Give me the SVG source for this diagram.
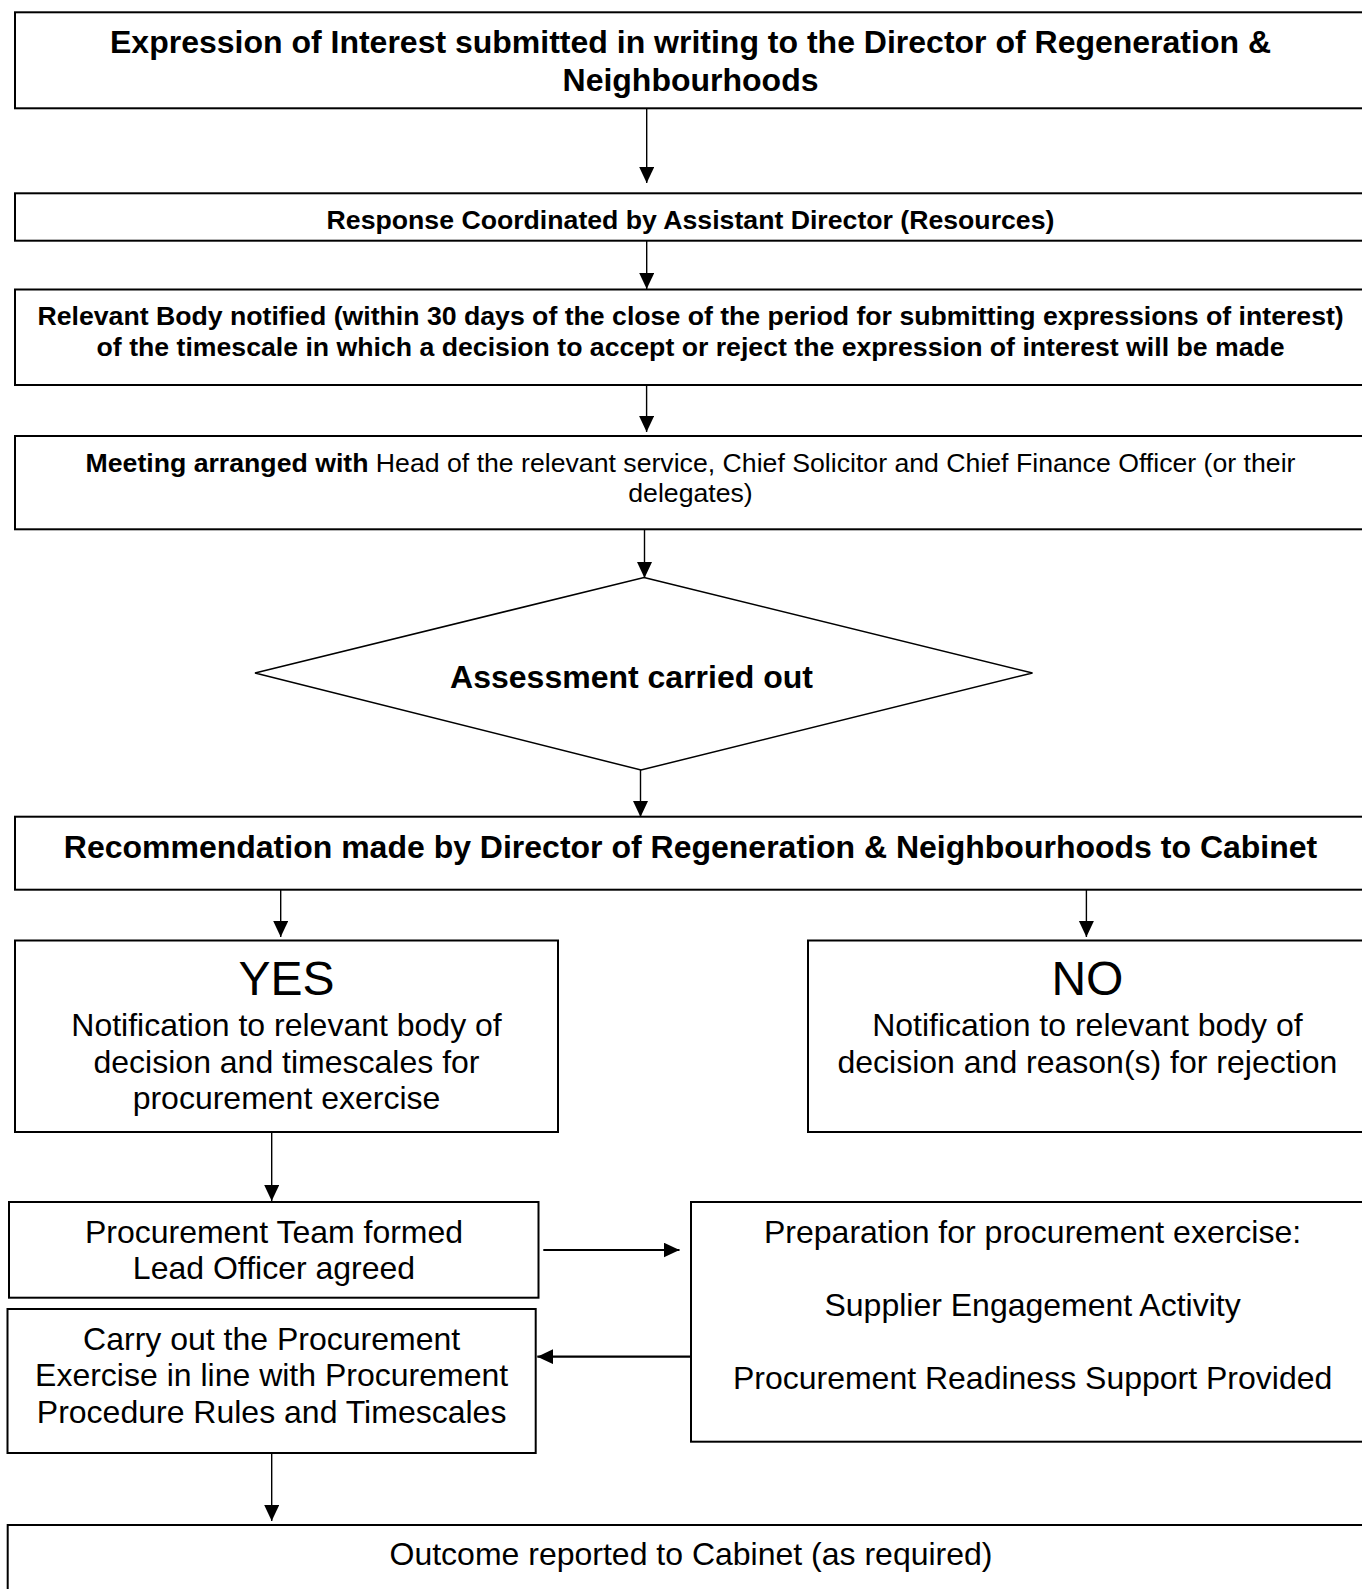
<svg xmlns="http://www.w3.org/2000/svg" width="1362" height="1589" viewBox="0 0 1362 1589">
<style>
.box{fill:#fff;stroke:#000;stroke-width:2}
.t{font-family:"Liberation Sans",Arial,sans-serif;fill:#000;text-anchor:middle}
.b{font-weight:bold}
.s20{font-size:26.67px}
.s24{font-size:32px}
.s36{font-size:48px}
.c{stroke:#000;stroke-width:1.4;fill:none}
.ch{stroke:#000;stroke-width:2.2;fill:none}
</style>
<defs>
<marker id="ah" markerUnits="userSpaceOnUse" markerWidth="18" markerHeight="16" refX="16" refY="7.5" orient="auto">
<path d="M0,0 L16,7.5 L0,15 z" fill="#000"/>
</marker>
</defs>
<rect width="1362" height="1589" fill="#fff"/>
<g id="connectors">
<line class="c" x1="646.7" y1="109" x2="646.7" y2="183" marker-end="url(#ah)"/>
<line class="c" x1="646.7" y1="241" x2="646.7" y2="289" marker-end="url(#ah)"/>
<line class="c" x1="646.6" y1="385" x2="646.6" y2="432" marker-end="url(#ah)"/>
<line class="c" x1="644.5" y1="529" x2="644.5" y2="578" marker-end="url(#ah)"/>
<line class="c" x1="640.5" y1="770" x2="640.5" y2="817" marker-end="url(#ah)"/>
<line class="c" x1="280.7" y1="890" x2="280.7" y2="937" marker-end="url(#ah)"/>
<line class="c" x1="1086.4" y1="890" x2="1086.4" y2="937" marker-end="url(#ah)"/>
<line class="c" x1="271.7" y1="1132" x2="271.7" y2="1201" marker-end="url(#ah)"/>
<line class="ch" x1="543.3" y1="1250" x2="679.5" y2="1250" marker-end="url(#ah)"/>
<line class="ch" x1="691" y1="1356.7" x2="537.3" y2="1356.7" marker-end="url(#ah)"/>
<line class="c" x1="271.7" y1="1453" x2="271.7" y2="1521" marker-end="url(#ah)"/>
</g>
<g id="n1">
<rect class="box" x="15" y="12.3" width="1351" height="96"/>
<text class="t b s24" x="690.5" y="53.3">Expression of Interest submitted in writing to the Director of Regeneration &amp;</text>
<text class="t b s24" x="690.5" y="90.5">Neighbourhoods</text>
</g>
<g id="n2">
<rect class="box" x="15" y="193.3" width="1351" height="47.4"/>
<text class="t b s20" x="690.5" y="228.5">Response Coordinated by Assistant Director (Resources)</text>
</g>
<g id="n3">
<rect class="box" x="15" y="289.5" width="1351" height="95.5"/>
<text class="t b s20" x="690.6" y="324.5">Relevant Body notified (within 30 days of the close of the period for submitting expressions of interest)</text>
<text class="t b s20" x="690.6" y="355.5">of the timescale in which a decision to accept or reject the expression of interest will be made</text>
</g>
<g id="n4">
<rect class="box" x="15" y="436" width="1351" height="93.3"/>
<text class="t s20" x="690.5" y="471.5"><tspan class="b">Meeting arranged with</tspan> Head of the relevant service, Chief Solicitor and Chief Finance Officer (or their</text>
<text class="t s20" x="690.5" y="502">delegates)</text>
</g>
<g id="n5">
<polygon points="644,577.5 1032.5,673 641,770 255,673" fill="#fff" stroke="#000" stroke-width="1.5"/>
<text class="t b s24" x="631.5" y="688">Assessment carried out</text>
</g>
<g id="n6">
<rect class="box" x="15" y="816.7" width="1351" height="73"/>
<text class="t b s24" x="690.5" y="858">Recommendation made by Director of Regeneration &amp; Neighbourhoods to Cabinet</text>
</g>
<g id="n7">
<rect class="box" x="15" y="940.5" width="543" height="191.5"/>
<text class="t s36" x="286.5" y="995">YES</text>
<text class="t s24" x="286.5" y="1035.5">Notification to relevant body of</text>
<text class="t s24" x="286.5" y="1072.5">decision and timescales for</text>
<text class="t s24" x="286.5" y="1109">procurement exercise</text>
</g>
<g id="n8">
<rect class="box" x="808" y="940.5" width="560" height="191.5"/>
<text class="t s36" x="1087.4" y="995">NO</text>
<text class="t s24" x="1087.4" y="1035.5">Notification to relevant body of</text>
<text class="t s24" x="1087.4" y="1072.5">decision and reason(s) for rejection</text>
</g>
<g id="n9">
<rect class="box" x="9" y="1202" width="529.5" height="95.7"/>
<text class="t s24" x="274" y="1242.5">Procurement Team formed</text>
<text class="t s24" x="274" y="1279.3">Lead Officer agreed</text>
</g>
<g id="n10">
<rect class="box" x="691" y="1202" width="685" height="239.7"/>
<text class="t s24" x="1032.6" y="1242.5">Preparation for procurement exercise:</text>
<text class="t s24" x="1032.6" y="1316">Supplier Engagement Activity</text>
<text class="t s24" x="1032.6" y="1389.3">Procurement Readiness Support Provided</text>
</g>
<g id="n11">
<rect class="box" x="7.5" y="1309" width="528.2" height="144"/>
<text class="t s24" x="271.6" y="1349.5">Carry out the Procurement</text>
<text class="t s24" x="271.6" y="1386.2">Exercise in line with Procurement</text>
<text class="t s24" x="271.6" y="1422.7">Procedure Rules and Timescales</text>
</g>
<g id="n12">
<rect class="box" x="7.7" y="1525" width="1366" height="100"/>
<text class="t s24" x="691" y="1564.5">Outcome reported to Cabinet (as required)</text>
</g>
</svg>
